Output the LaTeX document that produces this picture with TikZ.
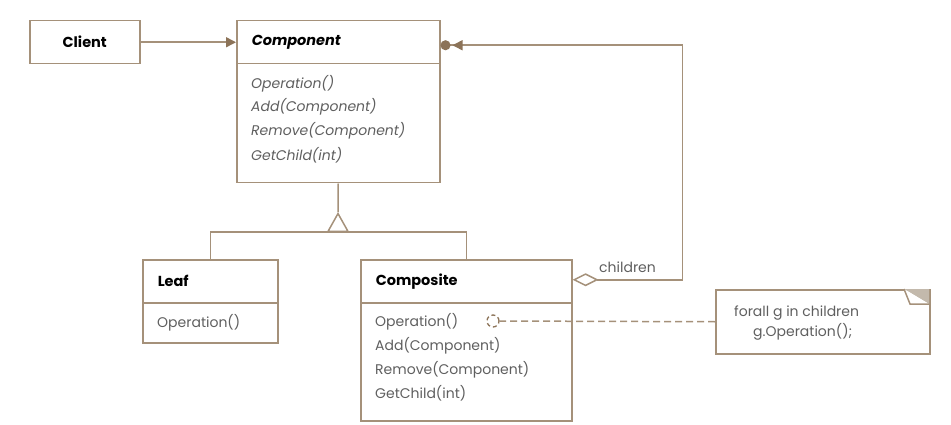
\documentclass[tikz,border=0pt]{standalone}
\usepackage{fontspec}
\setmainfont{Poppins}
\usetikzlibrary{arrows.meta,positioning}
\definecolor{umlline}{RGB}{165,145,122}
\definecolor{umltip}{RGB}{140,115,88}
\definecolor{umlop}{RGB}{95,95,95}
\definecolor{umlfold}{RGB}{195,185,172}

\begin{document}
\begin{tikzpicture}[x=1pt, y=-1pt,
    box/.style={draw=umlline, line width=1.5pt, anchor=north west, inner sep=0pt},
    head/.style={box, minimum height=43pt, inner xsep=15pt, align=left,
      font=\fontsize{14.5}{16}\selectfont\bfseries},
    op/.style={anchor=west, inner sep=0pt, text=umlop, font=\fontsize{14}{16}\selectfont},
    link/.style={draw=umlline, line width=1.5pt}]
  \useasboundingbox (0,0) rectangle (951,425);

  % Classes
  \node[head, text width=80pt, align=center] (client) at (29,20) {Client};

  \node[head, text width=173pt] (comphead) at (236,20) {\textit{Component}};
  \node[box, minimum width=203pt, minimum height=119pt] (compbody) at (236,63) {};
  \node[op, font=\fontsize{14}{16}\selectfont\itshape] (compop1) at (251,84) {Operation()};
  \node[op, font=\fontsize{14}{16}\selectfont\itshape] (compop2) at (251,107) {Add(Component)};
  \node[op, font=\fontsize{14}{16}\selectfont\itshape] (compop3) at (251,131) {Remove(Component)};
  \node[op, font=\fontsize{14}{16}\selectfont\itshape] (compop4) at (251,155) {GetChild(int)};

  \node[head, text width=105pt] (leafhead) at (142,259) {Leaf};
  \node[box, minimum width=135pt, minimum height=40pt] (leafbody) at (142,302) {};
  \node[op] (leafop1) at (157,323) {Operation()};

  \node[head, text width=181pt] (comphead2) at (360,259) {Composite};
  \node[box, minimum width=211pt, minimum height=118pt] (compbody2) at (360,302) {};
  \node[op] (comp2op1) at (375,322) {Operation()};
  \node[op] (comp2op2) at (375,346) {Add(Component)};
  \node[op] (comp2op3) at (375,370) {Remove(Component)};
  \node[op] (comp2op4) at (375,393) {GetChild(int)};

  % Note
  \node[box, minimum width=214pt, minimum height=64pt] (note) at (715,289) {};
  \fill[umlfold] (904,289) -- (929,289) -- (929,304) -- cycle;
  \draw[link, fill=white] (904,289) -- (910,304) -- (929,304);
  \node[op] (notetext1) at (734,313) {forall g in children};
  \node[op] (notetext2) at (753,332) {g.Operation();};
  \node[draw=umltip, dash pattern=on 4pt off 3pt, circle, minimum size=12pt, inner sep=0pt, line width=1.3pt] (opdot) at (493,321) {};

  % Links
  \coordinate (genbase) at (338,232);
  \coordinate (gentip) at (338,212);
  \draw[link, -{Triangle[length=10pt, width=10pt, color=umltip]}] (client) -- (comphead);
  \draw[link] (compbody.south) -- (gentip);
  \draw[link, -{Triangle[open, length=20pt, width=22pt]}] (genbase) -- (gentip);
  \draw[link] (leafhead.north) -- (leafhead.north |- genbase) -- (comphead2.north |- genbase) -- (comphead2.north);
  \draw[link, {Diamond[open, length=26pt, width=13pt]}-{Triangle[length=10pt, width=10pt, color=umltip, sep=2pt] Circle[length=10pt, color=umltip]}]
    ([yshift=1.5pt]comphead2.east) -- ++(110,0) |- ([yshift=-3pt]comphead.east);
  \node[op] (childlabel) at (599,267) {children};
  \draw[link, dash pattern=on 7pt off 4pt] (note.west) -- (opdot);
\end{tikzpicture}
\end{document}
